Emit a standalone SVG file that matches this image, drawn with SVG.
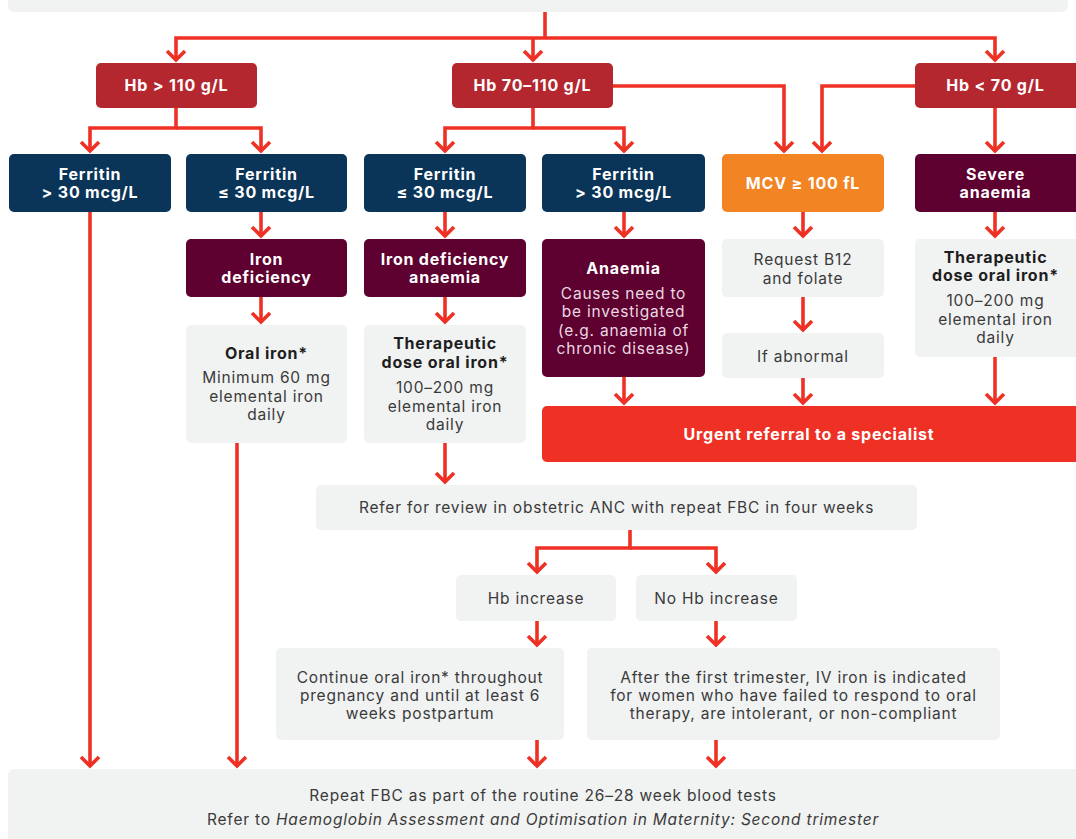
<svg xmlns="http://www.w3.org/2000/svg" width="1076" height="839" viewBox="0 0 1076 839">
<defs>
<marker id="ah" markerUnits="userSpaceOnUse" markerWidth="30" markerHeight="30" viewBox="-15 -15 30 30" refX="0" refY="0" orient="auto" overflow="visible">
<path d="M-9,-9 L0,0 L-9,9" fill="none" stroke="#EE3124" stroke-width="3.6" stroke-linejoin="miter"/>
</marker>
<style>
.c{fill:none;stroke:#EE3124;stroke-width:3.6;stroke-linejoin:miter}
.a{marker-end:url(#ah)}
.hb{fill:#B5272F}
.nv{fill:#0A3558}
.mr{fill:#5E0030}
.or{fill:#F28423}
.gy{fill:#F1F2F2}
.rd{fill:#EE3124}
text{font-family:Inter,"Noto Sans","Liberation Sans",sans-serif;text-anchor:middle;letter-spacing:0.8px}
.wb{fill:#FFFFFF;font-weight:700;font-size:16px}
.db{fill:#1E1E1E;font-weight:700;font-size:16px}
.t{fill:#3A3A3A;font-size:15.5px}
.tl{fill:#EAD9E1;font-size:15.5px}
</style>
</defs>

<g id="top"><rect class="gy" x="8" y="-10" width="1060" height="22" rx="6"/></g>

<g id="connectors">
<path class="c" d="M545,12 V38"/>
<path class="c a" d="M545,38 H176 V60"/>
<path class="c a" d="M545,38 H995 V60"/>
<path class="c a" d="M533,38 V60"/>
<path class="c a" d="M176,108 V128 H90 V151"/>
<path class="c a" d="M176,128 H261 V151"/>
<path class="c a" d="M533,108 V128 H445 V151"/>
<path class="c a" d="M533,128 H624 V151"/>
<path class="c a" d="M613,86 H784 V151"/>
<path class="c a" d="M915,86 H822 V151"/>
<path class="c a" d="M995,108 V151"/>
<path class="c a" d="M90,212 V766"/>
<path class="c a" d="M261,212 V236"/>
<path class="c a" d="M445,212 V236"/>
<path class="c a" d="M624,212 V236"/>
<path class="c a" d="M803,212 V236"/>
<path class="c a" d="M995,212 V236"/>
<path class="c a" d="M261,297 V322"/>
<path class="c a" d="M445,297 V322"/>
<path class="c a" d="M237,443 V766"/>
<path class="c a" d="M445,443 V482"/>
<path class="c a" d="M624,377 V403"/>
<path class="c a" d="M803,297 V330"/>
<path class="c a" d="M803,378 V403"/>
<path class="c a" d="M995,357 V403"/>
<path class="c a" d="M630,530 V548 H537 V572"/>
<path class="c a" d="M630,548 H716 V572"/>
<path class="c a" d="M537,621 V645"/>
<path class="c a" d="M716,621 V645"/>
<path class="c a" d="M537,740 V766"/>
<path class="c a" d="M716,740 V766"/>
</g>

<g id="hb110"><rect class="hb" x="96" y="63" width="161" height="45" rx="5"/><text class="wb" x="176.5" y="91">Hb &gt; 110 g/L</text></g>
<g id="hb70110"><rect class="hb" x="452" y="63" width="161" height="45" rx="5"/><text class="wb" x="532.5" y="91">Hb 70–110 g/L</text></g>
<g id="hb70"><rect class="hb" x="915" y="63" width="165" height="45" rx="5"/><text class="wb" x="995.5" y="91">Hb &lt; 70 g/L</text></g>

<g id="fer1"><rect class="nv" x="9" y="154" width="162" height="58" rx="5"/><text class="wb" x="90" y="180">Ferritin</text><text class="wb" x="90" y="198">&gt; 30 mcg/L</text></g>
<g id="fer2"><rect class="nv" x="186" y="154" width="161" height="58" rx="5"/><text class="wb" x="266.5" y="180">Ferritin</text><text class="wb" x="266.5" y="198">≤ 30 mcg/L</text></g>
<g id="fer3"><rect class="nv" x="364" y="154" width="162" height="58" rx="5"/><text class="wb" x="445" y="180">Ferritin</text><text class="wb" x="445" y="198">≤ 30 mcg/L</text></g>
<g id="fer4"><rect class="nv" x="542" y="154" width="163" height="58" rx="5"/><text class="wb" x="623.5" y="180">Ferritin</text><text class="wb" x="623.5" y="198">&gt; 30 mcg/L</text></g>
<g id="mcv"><rect class="or" x="722" y="154" width="162" height="58" rx="5"/><text class="wb" x="803" y="189" font-weight="600">MCV ≥ 100 fL</text></g>
<g id="severe"><rect class="mr" x="915" y="154" width="165" height="58" rx="5"/><text class="wb" x="995.5" y="180">Severe</text><text class="wb" x="995.5" y="198">anaemia</text></g>

<g id="irondef"><rect class="mr" x="186" y="239" width="161" height="58" rx="5"/><text class="wb" x="266.5" y="265">Iron</text><text class="wb" x="266.5" y="283">deficiency</text></g>
<g id="ida"><rect class="mr" x="364" y="239" width="162" height="58" rx="5"/><text class="wb" x="445" y="265">Iron deficiency</text><text class="wb" x="445" y="283">anaemia</text></g>
<g id="anaemia"><rect class="mr" x="542" y="239" width="163" height="138" rx="5"/><text class="wb" x="623.5" y="274">Anaemia</text><text class="tl" x="623.5" y="299">Causes need to</text><text class="tl" x="623.5" y="317">be investigated</text><text class="tl" x="623.5" y="336">(e.g. anaemia of</text><text class="tl" x="623.5" y="354">chronic disease)</text></g>
<g id="b12"><rect class="gy" x="722" y="239" width="162" height="58" rx="5"/><text class="t" x="803" y="265">Request B12</text><text class="t" x="803" y="284">and folate</text></g>
<g id="abn"><rect class="gy" x="722" y="333" width="162" height="45" rx="5"/><text class="t" x="803" y="362">If abnormal</text></g>
<g id="ther2"><rect class="gy" x="915" y="239" width="165" height="118" rx="5"/><text class="db" x="995.5" y="263">Therapeutic</text><text class="db" x="995.5" y="281">dose oral iron*</text><text class="t" x="995.5" y="306">100–200 mg</text><text class="t" x="995.5" y="325">elemental iron</text><text class="t" x="995.5" y="343">daily</text></g>

<g id="oral"><rect class="gy" x="186" y="325" width="161" height="118" rx="5"/><text class="db" x="266.5" y="359">Oral iron*</text><text class="t" x="266.5" y="383">Minimum 60 mg</text><text class="t" x="266.5" y="402">elemental iron</text><text class="t" x="266.5" y="420">daily</text></g>
<g id="ther1"><rect class="gy" x="364" y="325" width="162" height="118" rx="5"/><text class="db" x="445" y="349">Therapeutic</text><text class="db" x="445" y="368">dose oral iron*</text><text class="t" x="445" y="393">100–200 mg</text><text class="t" x="445" y="412">elemental iron</text><text class="t" x="445" y="430">daily</text></g>

<g id="urgent"><rect class="rd" x="542" y="406" width="540" height="56" rx="5"/><text class="wb" x="809" y="440">Urgent referral to a specialist</text></g>

<g id="refer"><rect class="gy" x="316" y="485" width="601" height="45" rx="5"/><text class="t" x="616.5" y="513">Refer for review in obstetric ANC with repeat FBC in four weeks</text></g>
<g id="hbinc"><rect class="gy" x="456" y="575" width="160" height="46" rx="5"/><text class="t" x="536" y="604">Hb increase</text></g>
<g id="nohb"><rect class="gy" x="636" y="575" width="161" height="46" rx="5"/><text class="t" x="716.5" y="604">No Hb increase</text></g>
<g id="cont"><rect class="gy" x="276" y="648" width="288" height="92" rx="5"/><text class="t" x="420" y="683">Continue oral iron* throughout</text><text class="t" x="420" y="701">pregnancy and until at least 6</text><text class="t" x="420" y="719">weeks postpartum</text></g>
<g id="after"><rect class="gy" x="587" y="648" width="413" height="92" rx="5"/><text class="t" x="793.5" y="683">After the first trimester, IV iron is indicated</text><text class="t" x="793.5" y="701">for women who have failed to respond to oral</text><text class="t" x="793.5" y="719">therapy, are intolerant, or non-compliant</text></g>

<g id="bottom"><rect class="gy" x="8" y="769" width="1080" height="90" rx="6"/><text class="t" x="543" y="801">Repeat FBC as part of the routine 26–28 week blood tests</text><text class="t" x="543" y="825">Refer to <tspan font-style="italic">Haemoglobin Assessment and Optimisation in Maternity: Second trimester</tspan></text></g>
</svg>
